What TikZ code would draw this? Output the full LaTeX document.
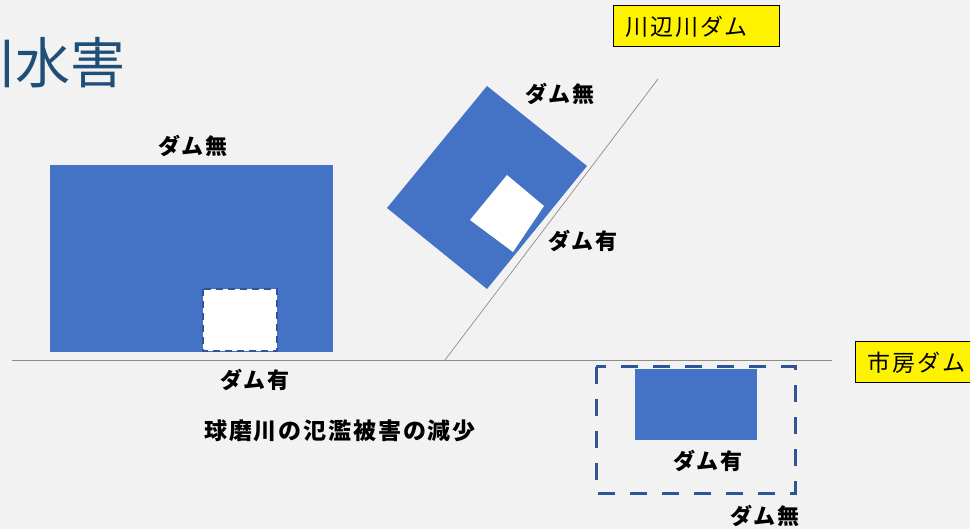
\documentclass[tikz,border=0pt]{standalone}
\usepackage{fontspec}
\newfontfamily\jp{Noto Sans CJK JP}
\newfontfamily\jpls[LetterSpace=8]{Noto Sans CJK JP}
\definecolor{bg}{HTML}{F2F2F2}
\definecolor{wblue}{HTML}{4472C4}
\definecolor{dblue}{HTML}{2F5597}
\definecolor{tblue}{HTML}{1F4E79}
\definecolor{lgray}{HTML}{8C8C8C}
\tikzset{
  lbl/.style={font=\jpls\bfseries\fontsize{22}{26}\selectfont, inner sep=0pt, text=black},
  ybox/.style={draw=black, line width=1pt, fill=yellow, anchor=west, inner xsep=12pt, inner ysep=0pt,
    minimum height=41pt, align=left, font=\jpls\fontsize{23}{27}\selectfont, text=black},
  water/.style={fill=wblue, draw=none},
  gap/.style={fill=white, draw=dblue, line width=1.4pt, dash pattern=on 7pt off 5pt},
  ground/.style={draw=lgray, line width=0.9pt}
}
\begin{document}
\begin{tikzpicture}[x=1pt,y=-1pt]
\useasboundingbox (0,0) rectangle (970,529);
\clip (0,0) rectangle (970,529);
\fill[bg] (0,0) rectangle (970,529);
% title (cut off at left edge, as in the reference)
\node[anchor=west, inner sep=0pt, font=\jp\fontsize{55}{60}\selectfont, text=tblue] (title) at (-40,63) {川水害};
% ground lines
\draw[ground] (12,360) -- (832,360);
\draw[ground, line width=0.7pt] (445,360) -- (658,79);
% left: big water body
\fill[water] (50,165) rectangle (333,352);
\draw[gap] (203,289) rectangle (277,351);
\node[lbl] (l1) at (193,146) {ダム無};
\node[lbl] (l2) at (255,380) {ダム有};
% tilted body
\fill[water] (487,86) -- (587,166) -- (487,289) -- (387,208) -- cycle;
\fill[white] (507,175) -- (544,206) -- (513,252) -- (470,220) -- cycle;
\node[lbl] (l3) at (560,94) {ダム無};
\node[lbl] (l4) at (583,241) {ダム有};
% right: dashed body
\fill[water] (635,369) rectangle (757,440);
\draw[draw=dblue, line width=3pt, dash pattern=on 17pt off 15pt] (596,367) rectangle (795,493);
\node[lbl] (l5) at (708,461) {ダム有};
\node[lbl] (l6) at (765,516) {ダム無};
% caption
\node[lbl, font=\jpls\bfseries\fontsize{23}{27}\selectfont] (cap) at (340,431) {球磨川の氾濫被害の減少};
% dam labels
\node[ybox, text width=142pt] (kawabe) at (613,26.5) {川辺川ダム};
\node[ybox, text width=120pt] (ichifusa) at (855,362.5) {市房ダム};
\end{tikzpicture}
\end{document}
